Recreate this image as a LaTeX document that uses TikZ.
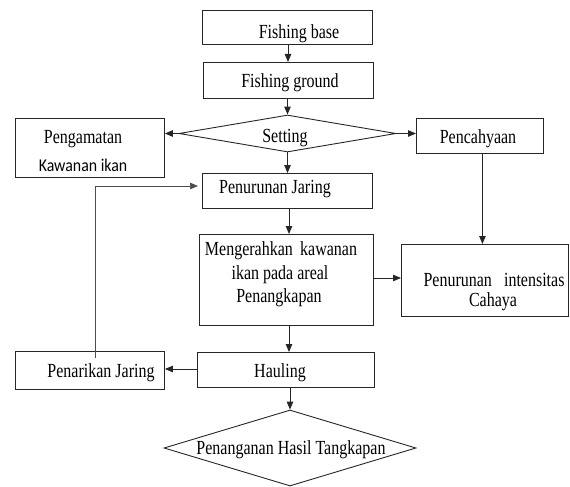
\documentclass[tikz,border=0pt]{standalone}
\usepackage{fontspec}
\setmainfont[FakeStretch=0.8]{Liberation Serif}
\newfontfamily\calib[FakeStretch=0.88]{Carlito}
\usetikzlibrary{shapes.geometric,arrows.meta,calc}
\begin{document}
\begin{tikzpicture}[x=1pt,y=-1pt,
  box/.style={draw=black!85,line width=0.9pt,inner sep=0pt,anchor=north west},
  dia/.style={draw=black!85,line width=0.9pt,diamond,inner sep=0pt},
  txt/.style={inner sep=0pt,font=\fontsize{20}{23}\selectfont,align=center},
  arr/.style={draw=black!85,line width=0.9pt,-{Triangle[length=8pt,width=6.5pt]}},
  fb/.style={draw=black!70,line width=0.7pt,-{Triangle[length=8pt,width=6.5pt]}}]
\useasboundingbox (0,0) rectangle (570,487);
% boxes
\node[box,minimum width=170pt,minimum height=34pt] (fb) at (202,10) {};
\node[box,minimum width=170pt,minimum height=36pt] (fg) at (203,62) {};
\node[dia,minimum width=217pt,minimum height=37pt] (st) at (287.5,133.5) {};
\node[box,minimum width=149pt,minimum height=59pt] (pk) at (15,118) {};
\node[box,minimum width=127pt,minimum height=35pt] (pc) at (416,118) {};
\node[box,minimum width=170pt,minimum height=35pt] (pj) at (202,173) {};
\node[box,minimum width=174pt,minimum height=91pt] (me) at (199,234) {};
\node[box,minimum width=167pt,minimum height=72pt] (pi) at (401,244) {};
\node[box,minimum width=177pt,minimum height=35pt] (ha) at (197,352) {};
\node[box,minimum width=149pt,minimum height=38pt] (pn) at (15,351) {};
\node[dia,minimum width=252pt,minimum height=76pt] (ph) at (290,448) {};
% texts
\node[txt] (t1) at (299,34) {Fishing base};
\node[txt] (t2) at (290,83) {Fishing ground};
\node[txt] (t3) at (285,138) {Setting};
\node[txt] (t4) at (83,139) {Pengamatan};
\node[inner sep=0pt,font=\calib\fontsize{18}{21}\selectfont] (t5) at (83,165) {Kawanan ikan};
\node[txt] (t6) at (478,139) {Pencahyaan};
\node[txt] (t7) at (275,189) {Penurunan Jaring};
\node[txt] (t8) at (281,251) {Mengerahkan\, kawanan};
\node[txt] (t9) at (280,275) {ikan pada areal};
\node[txt] (t10) at (279,298) {Penangkapan};
\node[txt] (t11) at (494,280) {\makebox[141pt][s]{Penurunan intensitas}};
\node[txt] (t12) at (493,302) {Cahaya};
\node[txt] (t13) at (280,373) {Hauling};
\node[txt] (t14) at (101,373) {Penarikan Jaring};
\node[txt] (t15) at (291,450) {Penanganan Hasil Tangkapan};
% connectors
\coordinate (pcs) at ($(pc.south)+(2.5,0)$);
\coordinate (pkn) at ($(pn.north west)+(80,7)$);
\draw[arr] (fb.south -| 288,0) -- (fg.north -| 288,0);
\draw[arr] (fg.south -| st.north) -- (st.north);
\draw[arr] (st.west) -- (pk.east |- st.west);
\draw[arr] (st.east) -- (pc.west |- st.east);
\draw[arr] (st.south) -- (pj.north -| st.south);
\draw[arr] (pcs) -- (pcs |- pi.north);
\draw[arr] (pj.south -| 289,0) -- (me.north -| 289,0);
\draw[arr] (me.east |- 0,278) -- (pi.west |- 0,278);
\draw[arr] (me.south -| 289,0) -- (ha.north -| 289,0);
\draw[arr] (ha.west |- 0,369) -- (pn.east |- 0,369);
\draw[arr] (ha.south -| ph.north) -- (ph.north);
\draw[fb,shorten >=4pt] (pkn) |- (pj.west |- 0,186);
\end{tikzpicture}
\end{document}
